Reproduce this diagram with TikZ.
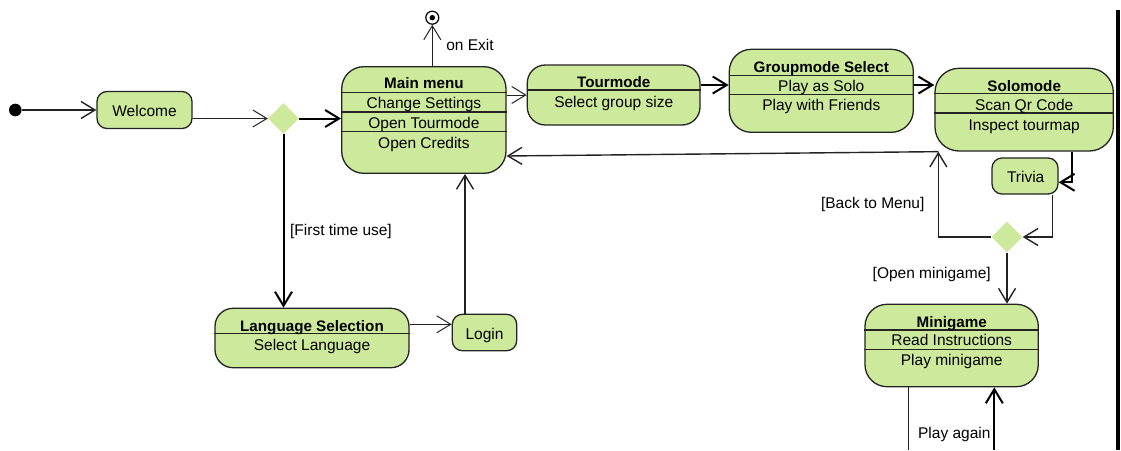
\documentclass[tikz,border=0pt]{standalone}
\usepackage{fontspec}
\setmainfont{Liberation Sans}
\usetikzlibrary{arrows.meta, shapes.geometric}
\definecolor{actfill}{RGB}{205,233,155}
\definecolor{ink}{RGB}{35,35,35}

\begin{document}
\begin{tikzpicture}[x=1pt, y=-1pt,
  font=\fontsize{15.5}{18}\selectfont,
  act/.style={draw=ink, fill=actfill, line width=1.3pt, inner sep=0pt, rounded corners=#1},
  act/.default=20pt,
  sep/.style={draw=ink, line width=1.4pt},
  txt/.style={inner sep=0pt, text height=11pt, text depth=0pt, anchor=center},
  ttl/.style={txt, font=\fontsize{15.2}{18}\selectfont\bfseries},
  decision/.style={diamond, fill=actfill, minimum width=31pt, minimum height=31pt, inner sep=0pt},
  tip/.style={-{Straight Barb[length=14pt,width=17pt]}},
  flow/.style={draw=ink, line width=1pt, tip},
  flowm/.style={draw=ink, line width=1.4pt, tip},
  flowb/.style={draw=black, line width=2pt, tip},
]
\useasboundingbox (0,0) rectangle (1121,450);

% initial and final states
\node[circle, fill=black, minimum size=12.6pt, inner sep=0pt] (init) at (15.3,110) {};
\node[circle, draw=black, line width=1.2pt, fill=white, minimum size=13pt, inner sep=0pt] (fin) at (432.3,17.7) {};
\node[circle, fill=black, minimum size=5.5pt, inner sep=0pt] (finDot) at (fin.center) {};

% decisions
\node[decision] (d1) at (283.5,118.5) {};
\node[decision] (d2) at (1007,237) {};

% simple actions
\node[act=10pt, minimum width=95pt, minimum height=37pt] (wel) at (144.5,110) {};
\node[txt] (welT) at (144.5,111) {Welcome};
\node[act=10pt, minimum width=64.4pt, minimum height=36.4pt] (login) at (484.5,332.5) {};
\node[txt] (loginT) at (484.5,334) {Login};
\node[act=10pt, minimum width=66pt, minimum height=36pt] (triv) at (1025,176) {};
\node[txt] (trivT) at (1025.7,176.7) {Trivia};

% Main menu
\node[act=22pt, minimum width=164.3pt, minimum height=106.6pt] (mm) at (423.85,120) {};
\draw[sep] ([yshift=-26.6pt]mm.north west) -- ([yshift=-26.6pt]mm.north east);
\draw[sep] ([yshift=-46pt]mm.north west) -- ([yshift=-46pt]mm.north east);
\draw[sep] ([yshift=-65.3pt]mm.north west) -- ([yshift=-65.3pt]mm.north east);
\node[ttl] (mmT) at (423.9,83.3) {Main menu};
\node[txt] (mmA) at (423.9,103.3) {Change Settings};
\node[txt] (mmB) at (423.9,122.7) {Open Tourmode};
\node[txt] (mmC) at (423.9,142.7) {Open Credits};

% Tourmode
\node[act=18pt, minimum width=172.7pt, minimum height=60pt] (tour) at (613.65,95) {};
\draw[sep] ([yshift=-25.7pt]tour.north west) -- ([yshift=-25.7pt]tour.north east);
\node[ttl] (tourT) at (613.7,81.7) {Tourmode};
\node[txt] (tourA) at (613.7,101.7) {Select group size};

% Groupmode Select
\node[act=22pt, minimum width=184pt, minimum height=83pt] (grp) at (821.3,90.8) {};
\draw[sep] ([yshift=-26.7pt]grp.north west) -- ([yshift=-26.7pt]grp.north east);
\draw[sep] ([yshift=-45.7pt]grp.north west) -- ([yshift=-45.7pt]grp.north east);
\node[ttl] (grpT) at (821.3,66.7) {Groupmode Select};
\node[txt] (grpA) at (821.3,86) {Play as Solo};
\node[txt] (grpB) at (821.3,105.3) {Play with Friends};

% Solomode
\node[act=24pt, minimum width=178.3pt, minimum height=82.7pt] (solo) at (1024.15,109.65) {};
\draw[sep] ([yshift=-26pt]solo.north west) -- ([yshift=-26pt]solo.north east);
\draw[sep] ([yshift=-45.4pt]solo.north west) -- ([yshift=-45.4pt]solo.north east);
\node[ttl] (soloT) at (1024.2,86) {Solomode};
\node[txt] (soloA) at (1024.2,105.3) {Scan Qr Code};
\node[txt] (soloB) at (1024.2,124.7) {Inspect tourmap};

% Minigame
\node[act=22pt, minimum width=173.3pt, minimum height=82.4pt] (mini) at (951.65,345.5) {};
\draw[sep] ([yshift=-26.4pt]mini.north west) -- ([yshift=-26.4pt]mini.north east);
\draw[sep] ([yshift=-45.7pt]mini.north west) -- ([yshift=-45.7pt]mini.north east);
\node[ttl] (miniT) at (951.7,321.7) {Minigame};
\node[txt] (miniA) at (951.7,340.3) {Read Instructions};
\node[txt] (miniB) at (951.7,360) {Play minigame};

% Language Selection
\node[act=18pt, minimum width=194pt, minimum height=59.4pt] (lang) at (312,338) {};
\draw[sep] ([yshift=-26pt]lang.north west) -- ([yshift=-26pt]lang.north east);
\node[ttl] (langT) at (312,325.7) {Language Selection};
\node[txt] (langA) at (312,345) {Select Language};

% connector end points
\coordinate (loginIn) at ([yshift=8.2pt]login.west);
\coordinate (loginOut) at ([xshift=-19.5pt]login.north);
\coordinate (tg) at ([yshift=10pt]tour.east);
\coordinate (soloRet) at ([xshift=4pt]solo.south west);
\coordinate (mmIn) at ([yshift=-36pt]mm.east);
\coordinate (st) at ([xshift=48pt]solo.south);
\coordinate (tIn) at ([yshift=-6.3pt]triv.east);
\coordinate (tOut) at ([xshift=27.7pt]triv.south);
\coordinate (mOut) at (908.3,450);
\coordinate (mIn) at (994.3,450);

% connectors
\draw[flowm] (init.east) -- (wel.west);
\draw[flow] (wel.east |- d1.west) -- (d1.west);
\draw[flowb] (d1.east) -- (mm.west |- d1.east);
\draw[flowb] (d1.south) -- (d1.south |- lang.north);
\draw[flow] (lang.east |- loginIn) -- (loginIn);
\draw[flowm] (loginOut) -- (loginOut |- mm.south);
\draw[flow] (fin |- mm.north) -- (fin.south);
\draw[flow] (mm.east |- tour.center) -- (tour.west);
\draw[flowb] (tg) -- (tg -| grp.west);
\draw[flowb] (tg -| grp.east) -- (tg -| solo.west);
\draw[flowm] (soloRet) -- (mmIn);
\draw[flowb] (st) |- (tIn);
\draw[flowm] (tOut) |- (d2.east);
\draw[flowm] (d2.west) -| (soloRet);
\draw[flowm] (d2.south) -- (d2.south |- mini.north);
\draw[draw=ink, line width=1pt] (mOut |- mini.south) -- (mOut);
\draw[flowb] (mIn) -- (mIn |- mini.south);

% guard and event labels
\node[txt] (lblExit) at (470,45) {on Exit};
\node[txt] (lblFirst) at (341,230) {[First time use]};
\node[txt] (lblBack) at (872.7,202.7) {[Back to Menu]};
\node[txt] (lblOpen) at (931.7,273.3) {[Open minigame]};
\node[txt] (lblAgain) at (954.3,433.3) {Play again};

% frame edge on the right
\fill[black] (1116,10) rectangle (1120,450);
\end{tikzpicture}
\end{document}
